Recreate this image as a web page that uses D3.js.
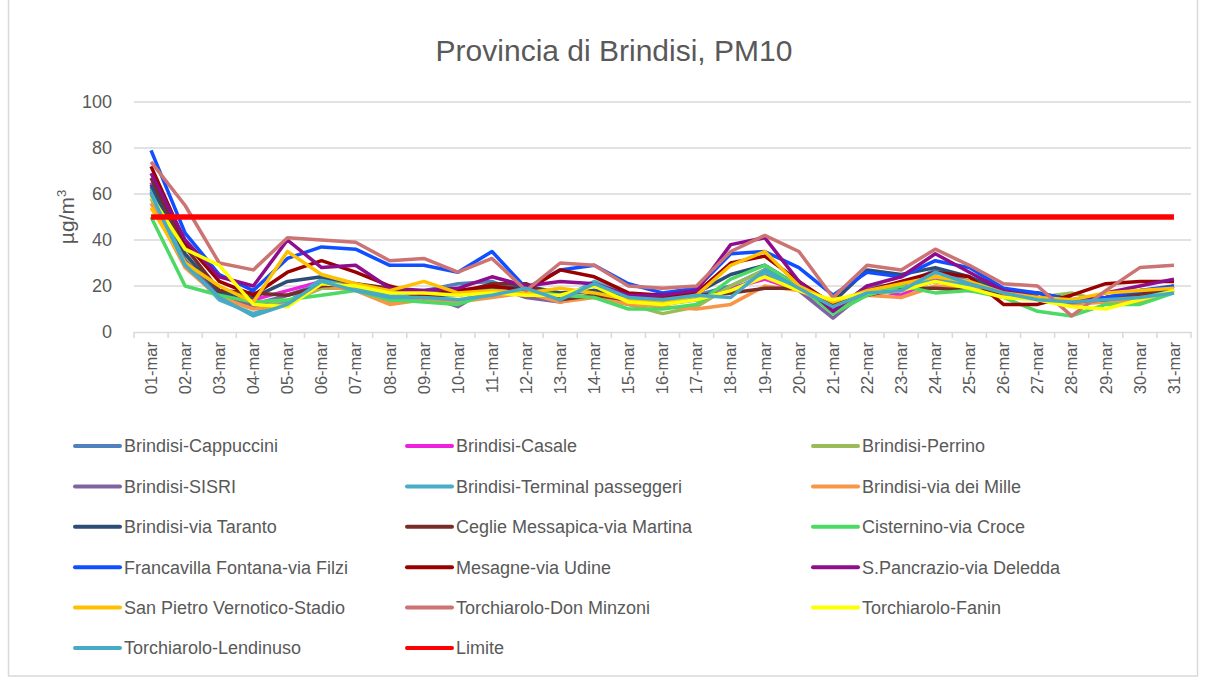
<!DOCTYPE html>
<html>
<head>
<meta charset="utf-8">
<style>
  body { margin: 0; background: #fff; }
  text { font-family: "Liberation Sans", Arial, sans-serif; fill: #595959; }
</style>
</head>
<body>
<div id="chart"></div>
<script src="https://d3js.org/d3.v7.min.js"></script>
<script>
  // days of March
  const days = d3.range(1, 32).map(d => String(d).padStart(2, "0") + "-mar");

  const yTicks = [0, 20, 40, 60, 80, 100];

  const stations = [
    "Brindisi-Cappuccini", "Brindisi-Casale", "Brindisi-Perrino",
    "Brindisi-SISRI", "Brindisi-Terminal passeggeri", "Brindisi-via dei Mille",
    "Brindisi-via Taranto", "Ceglie Messapica-via Martina", "Cisternino-via Croce",
    "Francavilla Fontana-via Filzi", "Mesagne-via Udine", "S.Pancrazio-via Deledda",
    "San Pietro Vernotico-Stadio", "Torchiarolo-Don Minzoni", "Torchiarolo-Fanin",
    "Torchiarolo-Lendinuso", "Limite"
  ];

  const colors = [
    "#4f81bd", "#ee22dd", "#9bbb59",
    "#8064a2", "#4bacc6", "#f79646",
    "#2c4d75", "#772c2a", "#4cd964",
    "#0f4fff", "#990000", "#8e0d8c",
    "#ffc000", "#cc7373", "#ffff00",
    "#46aac4", "#ff0000"
  ];

  // daily PM10 values, µg/m3
  const cappuccini = [63,31,18,12,16,21,20,17,18,21,22,16,16,18,15,14,16,20,27,19,9,20,20,27,22,18,15,14,14,17,19];
  const casale     = [65,33,17,14,18,22,19,17,17,16,19,17,17,18,15,13,14,19,23,18,10,19,16,23,20,16,15,14,14,17,18];
  const perrino    = [58,32,17,11,13,19,19,13,14,13,19,17,15,16,12,8,11,20,27,20,9,16,18,22,20,16,15,17,13,14,18];
  const sisri      = [61,31,17,11,16,20,19,15,16,11,20,15,13,16,12,12,14,18,25,18,6,18,18,22,20,17,17,14,15,18,19];
  const terminal   = [62,30,14,8,13,23,19,16,15,16,18,20,14,22,16,14,15,17,26,19,11,18,18,24,20,17,15,13,13,15,18];
  const mille      = [56,28,15,10,12,20,18,12,14,13,15,17,13,15,12,11,10,12,20,18,12,16,15,20,19,16,15,12,13,13,18];
  const taranto    = [64,34,17,15,22,24,21,18,17,17,19,20,17,18,16,16,17,25,29,20,13,27,25,28,24,18,17,14,15,17,19];
  const ceglie     = [67,37,18,17,16,20,21,19,15,17,21,21,14,16,14,15,16,17,19,19,13,16,19,19,18,17,15,13,14,16,20];
  const cisternino = [50,20,16,13,14,16,18,14,13,12,17,18,16,15,10,10,12,23,29,20,8,16,20,17,18,15,9,7,12,12,17];
  const francavilla= [79,43,25,18,32,37,36,29,29,26,35,19,27,29,21,17,19,34,35,28,16,26,24,31,28,19,17,14,15,18,20];
  const mesagne    = [72,39,22,16,26,31,26,20,16,18,20,18,27,24,17,16,17,30,33,22,12,18,22,26,24,12,12,16,21,22,22];
  const pancrazio  = [69,40,24,20,40,28,29,19,18,19,24,20,22,21,16,16,18,38,41,22,9,20,24,34,26,18,15,13,17,20,23];
  const sanPietro  = [54,30,20,13,35,25,21,18,22,17,18,17,19,17,14,13,16,29,35,20,13,18,21,24,22,17,15,14,17,18,19];
  const donMinzoni = [74,55,30,27,41,40,39,31,32,26,32,18,30,29,20,19,20,35,42,35,15,29,27,36,29,21,20,7,18,28,29];
  const fanin      = [59,36,29,12,11,21,20,17,17,16,17,16,16,20,13,12,14,18,24,18,14,17,18,22,19,15,14,11,10,14,18];
  const lendinuso  = [60,29,15,7,12,22,18,15,15,14,16,19,14,21,15,14,16,15,27,19,11,17,18,26,21,17,14,13,14,15,17];
  const limite     = days.map(() => 50);

  const values = [cappuccini, casale, perrino, sisri, terminal, mille, taranto, ceglie,
    cisternino, francavilla, mesagne, pancrazio, sanPietro, donMinzoni, fanin, lendinuso, limite];

  const W = 1206, H = 681;
  const plot = { left: 134, right: 1191, top: 102, bottom: 332 };

  const svg = d3.select("#chart").append("svg")
    .attr("width", W)
    .attr("height", H);

  // chart frame
  svg.append("rect")
    .attr("x", 8.5).attr("y", -1).attr("width", W - 17).attr("height", H - 4)
    .attr("fill", "#fff").attr("stroke", "#d9d9d9").attr("stroke-width", 1.5);

  const x = d3.scaleBand().domain(days).range([plot.left, plot.right]);
  const y = d3.scaleLinear().domain([0, 100]).range([plot.bottom, plot.top]);

  svg.append("text")
    .attr("x", 614).attr("y", 61)
    .attr("text-anchor", "middle")
    .style("font-size", "30px")
    .text("Provincia di Brindisi, PM10");

  // gridlines
  svg.append("g")
    .selectAll("line")
    .data(yTicks.slice(1))
    .join("line")
    .attr("x1", plot.left).attr("x2", plot.right)
    .attr("y1", d => y(d)).attr("y2", d => y(d))
    .attr("stroke", "#d9d9d9").attr("stroke-width", 1.5);

  const yAxis = svg.append("g")
    .attr("transform", `translate(${plot.left},0)`)
    .call(d3.axisLeft(y).tickValues(yTicks).tickSize(0).tickPadding(22));
  yAxis.select(".domain").remove();
  yAxis.selectAll("text").style("font-size", "18px").style("fill", "#595959")
    .style("font-family", "'Liberation Sans', Arial, sans-serif");

  const yLabel = svg.append("text")
    .attr("transform", "translate(74,217) rotate(-90)")
    .attr("text-anchor", "middle")
    .style("font-size", "21px");
  yLabel.append("tspan").text("µg/m");
  yLabel.append("tspan").attr("dy", -8).style("font-size", "13px").text("3");

  const xAxis = svg.append("g")
    .attr("transform", `translate(0,${plot.bottom})`)
    .call(d3.axisBottom(x).tickSize(0).tickPadding(0));
  xAxis.select(".domain").attr("stroke", "#d9d9d9").attr("stroke-width", 1.5);
  xAxis.selectAll("text")
    .attr("transform", "rotate(-90)")
    .attr("x", -10).attr("y", 0).attr("dy", "0.35em")
    .attr("text-anchor", "end")
    .style("font-size", "16.5px").style("fill", "#595959")
    .style("font-family", "'Liberation Sans', Arial, sans-serif");

  // band boundary ticks
  svg.append("g")
    .selectAll("line")
    .data(days.concat([null]))
    .join("line")
    .attr("x1", (d, i) => plot.left + i * x.step())
    .attr("x2", (d, i) => plot.left + i * x.step())
    .attr("y1", plot.bottom).attr("y2", plot.bottom + 6)
    .attr("stroke", "#d9d9d9").attr("stroke-width", 1.5);

  const line = d3.line()
    .x((d, i) => x(days[i]) + x.bandwidth() / 2)
    .y(d => y(d));

  svg.append("g")
    .selectAll("path")
    .data(values)
    .join("path")
    .attr("fill", "none")
    .attr("stroke", (d, i) => colors[i])
    .attr("stroke-width", (d, i) => i === 16 ? 5.5 : 3.5)
    .attr("stroke-linejoin", "round")
    .attr("d", line);

  // legend
  const colX = [75, 407, 813];
  const legend = svg.append("g")
    .selectAll("g")
    .data(stations)
    .join("g")
    .attr("transform", (d, i) => `translate(${colX[i % 3]},${446 + Math.floor(i / 3) * 40.4})`);
  legend.append("line")
    .attr("x1", 0).attr("x2", 45)
    .attr("stroke", (d, i) => colors[i])
    .attr("stroke-width", 4).attr("stroke-linecap", "round");
  legend.append("text")
    .attr("x", 49).attr("dy", "0.35em")
    .style("font-size", "18px")
    .text(d => d);
</script>
</body>
</html>
